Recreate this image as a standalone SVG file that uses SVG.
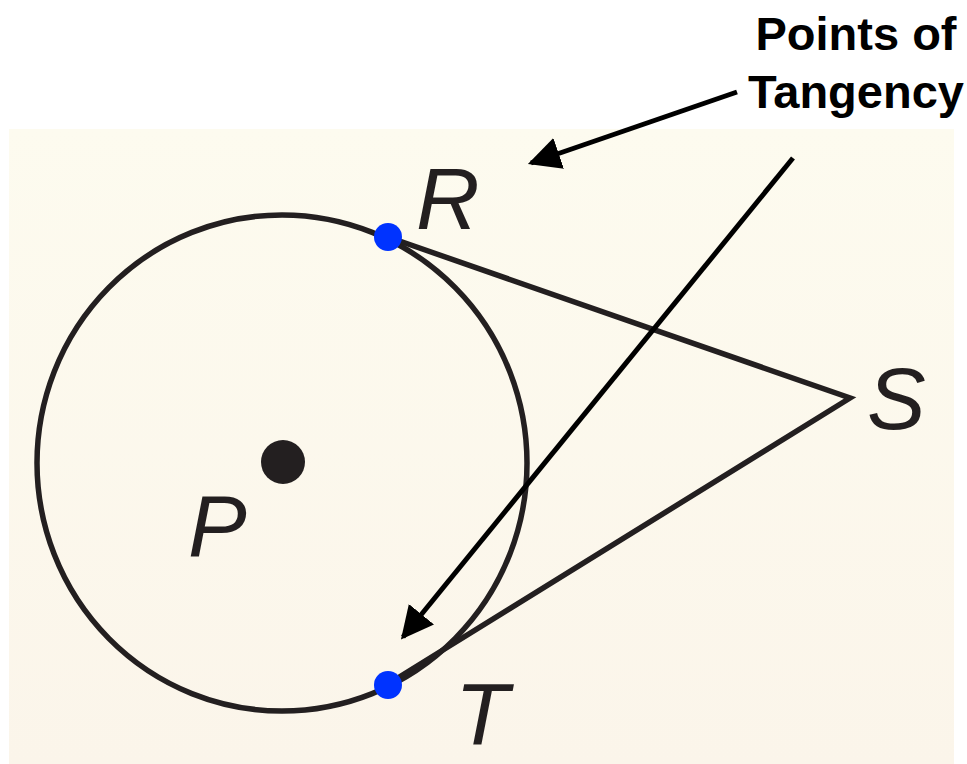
<svg xmlns="http://www.w3.org/2000/svg" width="967" height="764" viewBox="0 0 967 764">
<defs>
<linearGradient id="bg" x1="0" y1="0" x2="0" y2="1">
<stop offset="0" stop-color="#FDFBEF"/>
<stop offset="1" stop-color="#FBF5EA"/>
</linearGradient>
<marker id="ah" viewBox="0 0 10 10" refX="9" refY="5" markerWidth="6.5" markerHeight="6.5" orient="auto" markerUnits="strokeWidth">
<path d="M0,0 L10,5 L0,10 z" fill="#000"/>
</marker>
<style>
.fig{fill:none;stroke:#231f20;stroke-width:5.5;stroke-linecap:round}
.lbl{font-family:"Liberation Sans","Open Sans",sans-serif;font-style:italic;font-size:88px;fill:#231f20}
.note{font-family:"Liberation Sans",Arial,sans-serif;font-weight:bold;font-size:47px;fill:#000;text-anchor:middle}
.arr{fill:none;stroke:#000;stroke-width:5;marker-end:url(#ah)}
.pt{fill:#0033ff}
</style>
</defs>
<rect x="9" y="129" width="945" height="635" fill="url(#bg)"/>
<g id="circle-P">
<ellipse class="fig" cx="282" cy="463" rx="245" ry="248"/>
<circle cx="283" cy="462" r="22" fill="#231f20"/>
<text class="lbl" x="188" y="556">P</text>
</g>
<g id="tangents">
<polyline class="fig" points="388,237 850,398 388,684"/>
</g>
<g id="point-R">
<circle class="pt" cx="388" cy="237" r="14"/>
<text class="lbl" x="416" y="229">R</text>
</g>
<g id="point-S">
<text class="lbl" x="867" y="429">S</text>
</g>
<g id="point-T">
<circle class="pt" cx="388" cy="685" r="14"/>
<text class="lbl" x="455" y="744">T</text>
</g>
<g id="label">
<text class="note" x="856" y="50">Points of</text>
<text class="note" x="856" y="108">Tangency</text>
</g>
<g id="connectors">
<line class="arr" x1="737" y1="92" x2="531" y2="163"/>
<line class="arr" x1="793" y1="158" x2="403" y2="637"/>
</g>
</svg>
